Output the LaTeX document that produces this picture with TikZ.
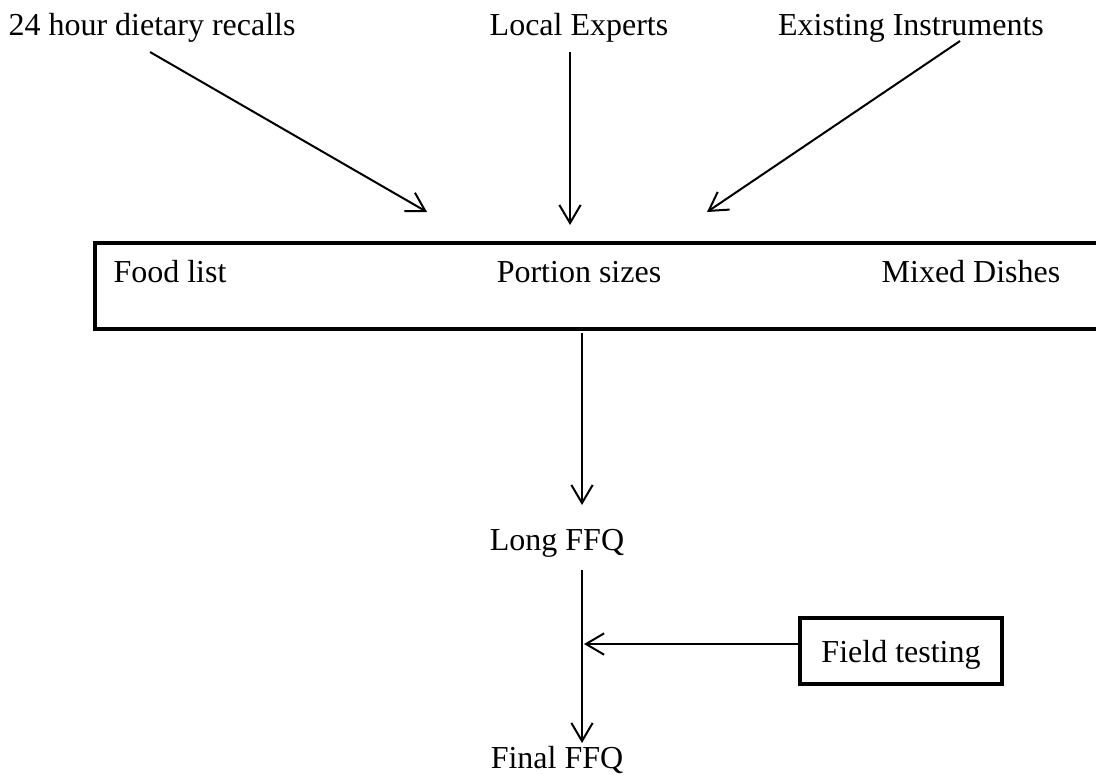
\documentclass[tikz,border=0pt]{standalone}
\usepackage{fontspec}
\setmainfont{Liberation Serif}
\usetikzlibrary{arrows.meta}
\begin{document}
\begin{tikzpicture}[x=0.375pt,y=-0.375pt,
  lbl/.style={inner sep=0pt, anchor=base, font=\fontsize{12}{14}\selectfont},
  conn/.style={line width=0.75pt, -{Straight Barb[length=6.8pt,width=8pt,line width=0.75pt]}},
  thickbox/.style={draw, line width=1.55pt, inner sep=0pt}]
\useasboundingbox (0,0) rectangle (1096,780);
\clip (0,0) rectangle (1096,780);
% top sources
\node[lbl] (recalls) at (152,35) {24 hour dietary recalls};
\node[lbl] (experts) at (579,35) {Local Experts};
\node[lbl] (instr) at (911,35) {Existing Instruments};
% big box (runs off the right edge)
\node[thickbox, anchor=north west, minimum width=420pt, minimum height=32.25pt] (box) at (93,241) {};
\node[lbl] (food) at (170,282) {Food list};
\node[lbl] (portion) at (579,282) {Portion sizes};
\node[lbl] (mixed) at (971,282) {Mixed Dishes};
% lower nodes
\node[lbl] (long) at (557,550) {Long FFQ};
\node[lbl] (final) at (557,768) {Final FFQ};
\node[thickbox, minimum width=75.75pt, minimum height=24.75pt] (field) at (901,651) {};
\node[lbl] at (901,662) {Field testing};
% coordinates
\coordinate (s1) at (150,52);
\coordinate (e1) at (427,212);
\coordinate (s2) at (570,52);
\coordinate (e2) at (570,225);
\coordinate (s3) at (960,41);
\coordinate (e3) at (707,212);
\coordinate (b1) at (582,333);
\coordinate (l1) at (582,505);
\coordinate (l2) at (582,570);
\coordinate (f1) at (582,743);
\coordinate (j) at (584,644);
% connectors
\draw[conn] (s1) -- (e1);
\draw[conn] (s2) -- (e2);
\draw[conn] (s3) -- (e3);
\draw[conn] (b1) -- (l1);
\draw[conn] (l2) -- (f1);
\draw[conn] (field.west |- j) -- (j);
\end{tikzpicture}
\end{document}
